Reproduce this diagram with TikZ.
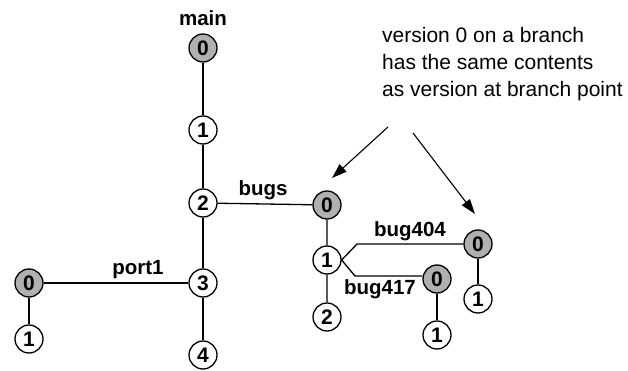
\documentclass[tikz,border=0pt]{standalone}
\usepackage{fontspec}
\setmainfont{Liberation Sans}
\usetikzlibrary{arrows.meta}
\definecolor{vergray}{RGB}{176,176,176}
\tikzset{
  ver/.style={circle, draw, line width=1.3pt, minimum size=28pt, inner sep=0pt,
    font=\fontsize{21}{21}\selectfont\bfseries, fill=white},
  base/.style={ver, fill=vergray},
  lab/.style={font=\fontsize{20.5}{20.5}\selectfont\bfseries, inner sep=0pt},
  link/.style={line width=1.3pt},
  note/.style={-{Triangle[length=15pt,width=10pt]}, line width=1.1pt}
}
\begin{document}
\begin{tikzpicture}[x=1pt,y=-1pt]
\useasboundingbox (0,0) rectangle (628,371);
% trunk
\node[lab] (mainlab) at (203,18) {main};
\node[base] (m0) at (203,48) {0};
\node[ver] (m1) at (203,130) {1};
\node[ver] (m2) at (203,203) {2};
\node[ver] (m3) at (203,283) {3};
\node[ver] (m4) at (203,355) {4};
\draw[link] (m0) -- (m1) -- (m2) -- (m3) -- (m4);
% branch bugs
\node[base] (b0) at (327,205) {0};
\node[ver] (b1) at (327,260) {1};
\node[ver] (b2) at (327,317) {2};
\draw[link] (m2) -- (b0) -- (b1) -- (b2);
\node[lab] (bugslab) at (263,190) {bugs};
% branch port1
\node[base] (p0) at (29,283) {0};
\node[ver] (p1) at (29,339) {1};
\draw[link] (m3) -- (p0) -- (p1);
\node[lab] (portlab) at (138,270) {port1};
% branch bug404
\node[base] (c0) at (478,244) {0};
\node[ver] (c1) at (478,299) {1};
\coordinate (c404) at (357,244);
\draw[link] (b1.east) -- (c404) -- (c0);
\draw[link] (c0) -- (c1);
\node[lab] (c404lab) at (410,231) {bug404};
% branch bug417
\node[base] (d0) at (437,279) {0};
\node[ver] (d1) at (437,335) {1};
\coordinate (c417) at (355,276);
\draw[link] (b1.east) -- (c417) -- (d0.west |- c417);
\draw[link] (d0) -- (d1);
\node[lab] (c417lab) at (380,289) {bug417};
% note (anchored at the baseline of its last line)
\node[anchor=base west, align=left, inner sep=0pt,
  font=\fontsize{21}{27}\selectfont] (note) at (382,97)
  {version 0 on a branch\\has the same contents\\as version at branch point};
\coordinate (n1) at (388,127);
\coordinate (n2) at (413,133);
\coordinate (t1) at (332,178);
\coordinate (t2) at (475,214);
\draw[note] (n1) -- (t1);
\draw[note] (n2) -- (t2);
\end{tikzpicture}
\end{document}
